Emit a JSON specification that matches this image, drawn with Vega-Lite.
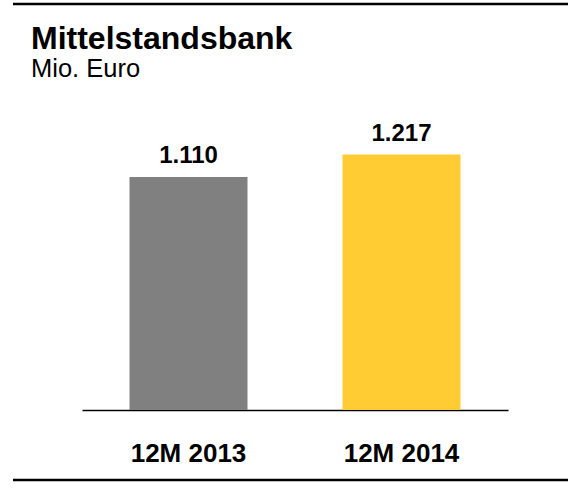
{
  "$schema": "https://vega.github.io/schema/vega-lite/v6.json",
  "width": 555,
  "height": 476,
  "autosize": {"type": "none"},
  "padding": {"left": 13, "top": 4, "right": 0, "bottom": 13},
  "background": "white",
  "config": {
    "view": {"stroke": null},
    "font": "Liberation Sans",
    "locale": {"number": {"decimal": ",", "thousands": ".", "grouping": [3], "currency": ["", " €"]}}
  },
  "title": {
    "text": "Mittelstandsbank",
    "subtitle": "Mio. Euro",
    "anchor": "start",
    "frame": "group",
    "dx": 18,
    "offset": -81,
    "font": "Liberation Sans",
    "fontSize": 32,
    "fontWeight": "bold",
    "color": "black",
    "subtitleFont": "Liberation Sans",
    "subtitleFontSize": 25.5,
    "subtitleColor": "black",
    "subtitlePadding": 1
  },
  "datasets": {
    "bars": [
      {"period": "12M 2013", "value": 1110},
      {"period": "12M 2014", "value": 1217}
    ],
    "frame": [
      {"line": "top", "y": 1935},
      {"line": "bottom", "y": -334}
    ]
  },
  "layer": [
    {
      "data": {"name": "frame"},
      "mark": {"type": "rule", "color": "black", "strokeWidth": 2.5},
      "encoding": {
        "y": {"field": "y", "type": "quantitative", "scale": {"domain": [-334, 1935], "nice": false, "zero": false}, "axis": null}
      }
    },
    {
      "data": {"name": "bars"},
      "mark": {"type": "bar", "width": {"band": 0.554}},
      "encoding": {
        "x": {
          "field": "period", "type": "nominal", "sort": null,
          "scale": {"range": [69, 495], "paddingInner": 0, "paddingOuter": 0},
          "axis": {
            "orient": "bottom", "offset": -70, "title": null,
            "domainColor": "black", "domainWidth": 1.5,
            "ticks": false, "tickSize": 0,
            "labelAngle": 0, "labelFontSize": 26, "labelFontWeight": "bold",
            "labelColor": "black", "labelBaseline": "alphabetic", "labelPadding": 51,
            "labelFont": "Liberation Sans"
          }
        },
        "y": {"field": "value", "type": "quantitative", "scale": {"domain": [-334, 1935], "nice": false, "zero": false}, "axis": null},
        "y2": {"datum": 0},
        "color": {"field": "period", "type": "nominal", "scale": {"range": ["#808080", "#FFCC33"]}, "legend": null}
      }
    },
    {
      "data": {"name": "bars"},
      "mark": {"type": "text", "dy": -14, "baseline": "alphabetic", "fontSize": 24, "fontWeight": "bold", "color": "black", "font": "Liberation Sans"},
      "encoding": {
        "x": {"field": "period", "type": "nominal", "sort": null},
        "y": {"field": "value", "type": "quantitative", "scale": {"domain": [-334, 1935], "nice": false, "zero": false}, "axis": null},
        "text": {"field": "value", "type": "quantitative", "format": ",d"}
      }
    }
  ]
}
